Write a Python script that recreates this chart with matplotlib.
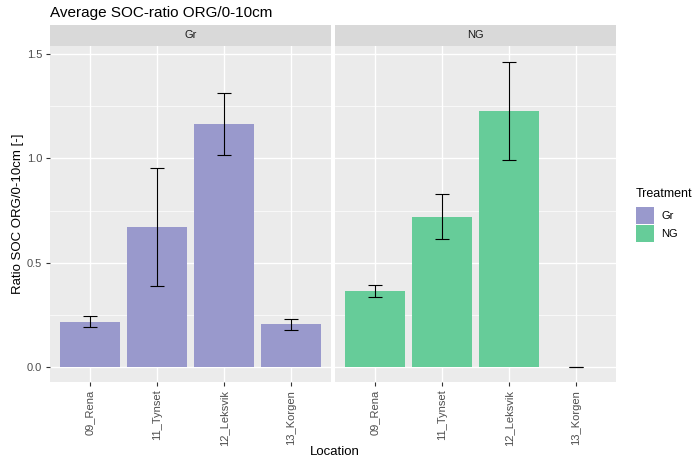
import matplotlib.pyplot as plt
import numpy as np
from matplotlib.patches import Patch

plt.rcParams["font.family"] = ["Liberation Sans", "DejaVu Sans"]

locations = ["09_Rena", "11_Tynset", "12_Leksvik", "13_Korgen"]
treatments = ["Gr", "NG"]
colors = {"Gr": "#9999CC", "NG": "#66CC99"}

# mean ratio and error bar limits per treatment
gr_mean = [0.216, 0.670, 1.166, 0.205]
gr_low = [0.190, 0.387, 1.018, 0.177]
gr_high = [0.245, 0.955, 1.314, 0.229]
ng_mean = [0.363, 0.721, 1.228, 0.0]
ng_low = [0.334, 0.612, 0.994, 0.0]
ng_high = [0.392, 0.831, 1.465, 0.0]

data = {
    "Gr": (gr_mean, gr_low, gr_high),
    "NG": (ng_mean, ng_low, ng_high),
}

fig = plt.figure(figsize=(6.95, 4.63), dpi=100)
bottom, top = 1 - 382 / 463, 1 - 46 / 463
strip_h = 21 / 463
lefts = [50 / 695, 335 / 695]
width = 281 / 695

x = np.arange(len(locations))
for i, t in enumerate(treatments):
    ax = fig.add_axes([lefts[i], bottom, width, top - bottom])
    ax.set_facecolor("#EBEBEB")
    mean, low, high = data[t]
    mean = np.array(mean)
    yerr = [mean - np.array(low), np.array(high) - mean]
    ax.bar(x, mean, width=0.9, color=colors[t], zorder=2)
    ax.errorbar(x, mean, yerr=yerr, fmt="none", ecolor="black", elinewidth=0.8,
                capsize=5, capthick=0.8, zorder=3)
    ax.set_xlim(-0.6, 3.6)
    ax.set_ylim(-0.0735, 1.54)
    ax.set_yticks([0, 0.5, 1.0, 1.5])
    ax.set_yticks([0.25, 0.75, 1.25], minor=True)
    ax.set_xticks(x)
    ax.set_xticklabels(locations, rotation=90)
    ax.grid(True, which="major", color="white", lw=1.0, zorder=0)
    ax.grid(True, which="minor", axis="y", color="white", lw=0.5, zorder=0)
    ax.set_axisbelow(True)
    for s in ax.spines.values():
        s.set_visible(False)
    ax.tick_params(axis="both", which="major", colors="#333333", labelcolor="#4D4D4D",
                   labelsize=8, length=3, width=0.8, pad=2.5)
    ax.tick_params(axis="y", which="minor", length=0)
    if i == 0:
        ax.set_yticklabels(["0.0", "0.5", "1.0", "1.5"])
        ax.set_ylabel("Ratio SOC ORG/0-10cm [-]", fontsize=9.5, labelpad=2)
    else:
        ax.tick_params(axis="y", which="major", length=0, labelleft=False)
    # facet strip
    sax = fig.add_axes([lefts[i], top, width, strip_h])
    sax.set_facecolor("#D9D9D9")
    sax.set_xticks([])
    sax.set_yticks([])
    for s in sax.spines.values():
        s.set_visible(False)
    sax.text(0.5, 0.5, t, ha="center", va="center", fontsize=8, color="#1A1A1A",
             transform=sax.transAxes)

fig.text(50 / 695, 1 - 13 / 463, "Average SOC-ratio ORG/0-10cm", fontsize=11,
         ha="left", va="center")
fig.text(335 / 695, 1 - 452 / 463, "Location", fontsize=9.5, ha="center", va="center")

handles = [Patch(facecolor=colors[t], edgecolor="none", label=t) for t in treatments]
leg = fig.legend(handles=handles, title="Treatment", loc="upper left",
                 bbox_to_anchor=(636 / 695, 1 - 188 / 463), frameon=False,
                 fontsize=8, title_fontsize=9, handlelength=1.6, handleheight=2.0,
                 handletextpad=0.7, labelspacing=0.1, borderpad=0.0, borderaxespad=0.0)
leg._legend_box.align = "left"
leg._legend_box.sep = 5

fig.savefig("out.png", dpi=100)
